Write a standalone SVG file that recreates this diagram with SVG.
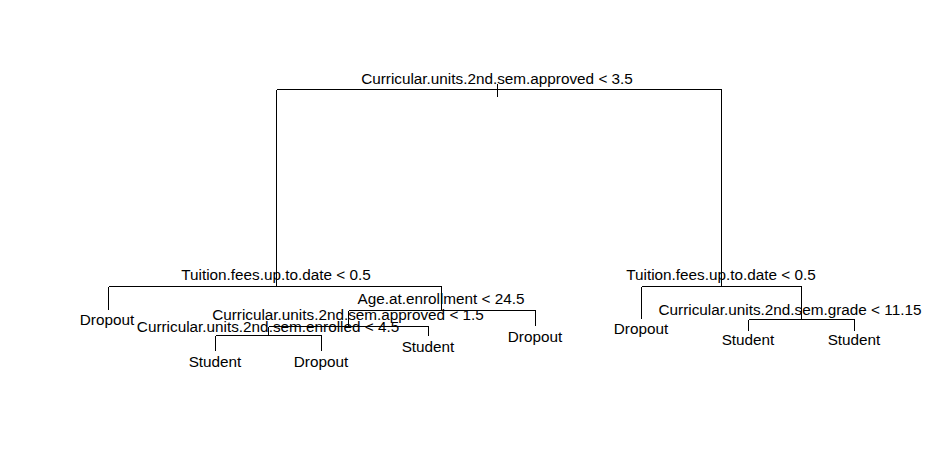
<svg xmlns="http://www.w3.org/2000/svg" width="925" height="460" viewBox="0 0 925 460">
<style>
  .bg { fill: #ffffff; }
  .edge { stroke: #000000; stroke-width: 1; fill: none; shape-rendering: crispEdges; }
  text { font-family: "Liberation Sans", Arial, sans-serif; font-size: 15.3px; fill: #000000; text-anchor: middle; }
</style>
<rect class="bg" x="0" y="0" width="925" height="460"/>
<g id="connectors">
  <path class="edge" d="M497.5,84 V97"/>
  <path class="edge" d="M276.5,89.5 H721.5"/>
  <path class="edge" d="M276.5,89.5 V286.5"/>
  <path class="edge" d="M721.5,89.5 V286.5"/>
  <path class="edge" d="M108.5,286.5 H441.5"/>
  <path class="edge" d="M108.5,286.5 V310"/>
  <path class="edge" d="M441.5,286.5 V310.5"/>
  <path class="edge" d="M348.5,310.5 H535.5"/>
  <path class="edge" d="M535.5,310.5 V326"/>
  <path class="edge" d="M348.5,310.5 V326.5"/>
  <path class="edge" d="M268.5,326.5 H428.5"/>
  <path class="edge" d="M428.5,326.5 V336"/>
  <path class="edge" d="M268.5,326.5 V335.5"/>
  <path class="edge" d="M215.5,335.5 H321.5"/>
  <path class="edge" d="M215.5,335.5 V351"/>
  <path class="edge" d="M321.5,335.5 V351"/>
  <path class="edge" d="M641.5,286.5 H801.5"/>
  <path class="edge" d="M641.5,286.5 V319"/>
  <path class="edge" d="M801.5,286.5 V319.5"/>
  <path class="edge" d="M748.5,319.5 H854.5"/>
  <path class="edge" d="M748.5,319.5 V331"/>
  <path class="edge" d="M854.5,319.5 V331"/>
</g>
<g id="n_root"><text x="497" y="84">Curricular.units.2nd.sem.approved &lt; 3.5</text></g>
<g id="n_tuition_left"><text x="276" y="280">Tuition.fees.up.to.date &lt; 0.5</text></g>
<g id="n_leaf_dropout_1"><text x="107" y="325">Dropout</text></g>
<g id="n_age"><text x="441" y="304">Age.at.enrollment &lt; 24.5</text></g>
<g id="n_leaf_dropout_2"><text x="535" y="342">Dropout</text></g>
<g id="n_approved_15"><text x="348" y="320">Curricular.units.2nd.sem.approved &lt; 1.5</text></g>
<g id="n_leaf_student_1"><text x="428" y="352">Student</text></g>
<g id="n_enrolled"><text x="268" y="332">Curricular.units.2nd.sem.enrolled &lt; 4.5</text></g>
<g id="n_leaf_student_2"><text x="215" y="367">Student</text></g>
<g id="n_leaf_dropout_3"><text x="321" y="367">Dropout</text></g>
<g id="n_tuition_right"><text x="721" y="280">Tuition.fees.up.to.date &lt; 0.5</text></g>
<g id="n_leaf_dropout_4"><text x="641" y="334">Dropout</text></g>
<g id="n_grade"><text x="790" y="315">Curricular.units.2nd.sem.grade &lt; 11.15</text></g>
<g id="n_leaf_student_3"><text x="748" y="345">Student</text></g>
<g id="n_leaf_student_4"><text x="854" y="345">Student</text></g>
</svg>
